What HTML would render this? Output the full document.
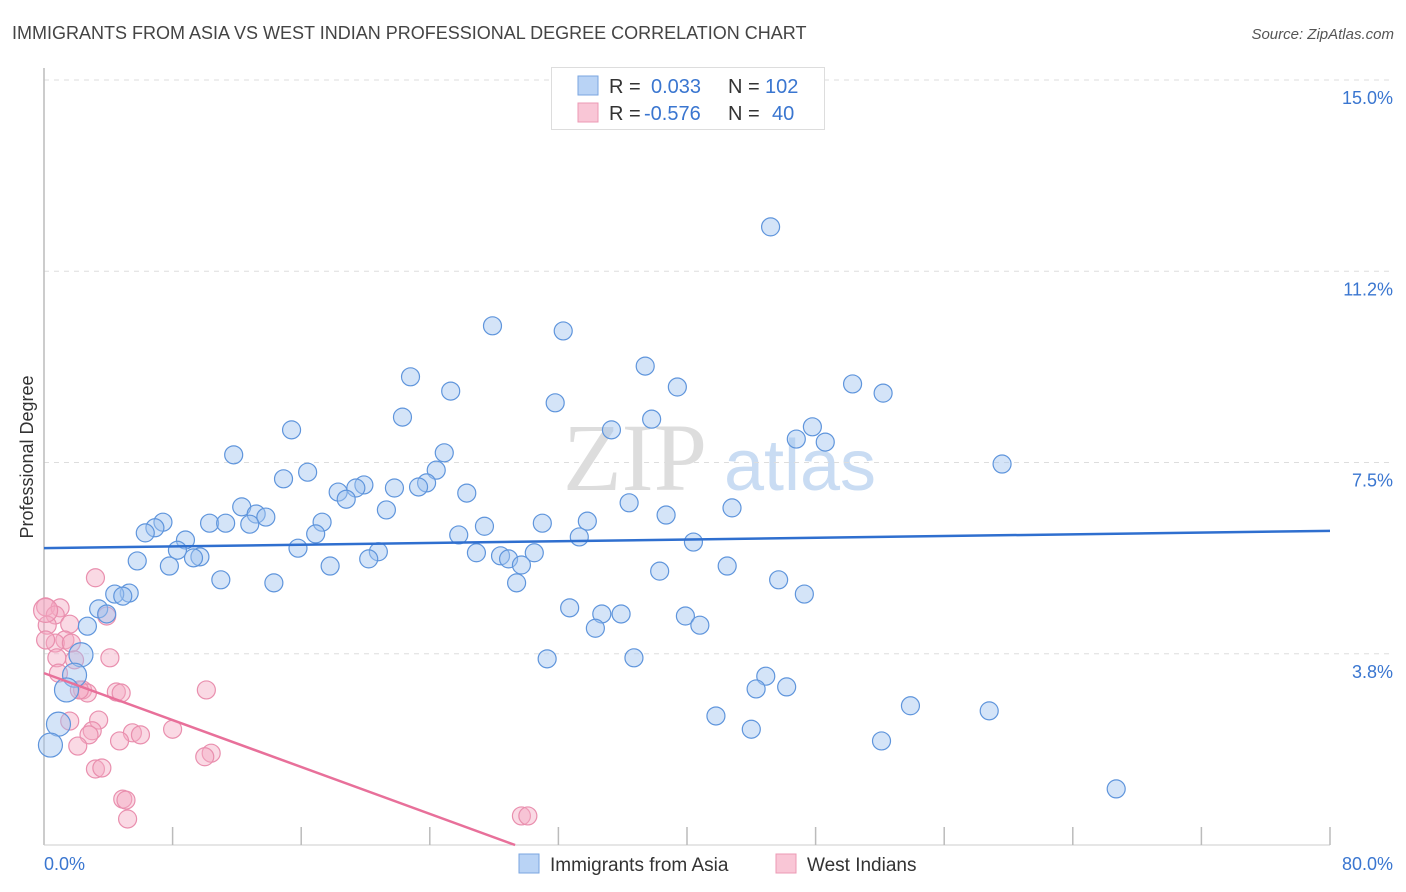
<!DOCTYPE html>
<html><head><meta charset="utf-8"><style>
body{margin:0;background:#fff;font-family:"Liberation Sans",sans-serif;}
svg{display:block}
</style></head><body>
<svg id="chart" width="1406" height="892" viewBox="0 0 1406 892" xmlns="http://www.w3.org/2000/svg">
<text x="12" y="39" font-size="18" fill="#444">IMMIGRANTS FROM ASIA VS WEST INDIAN PROFESSIONAL DEGREE CORRELATION CHART</text>
<text x="1394" y="39" font-size="15" fill="#555" font-style="italic" text-anchor="end">Source: ZipAtlas.com</text>
<text transform="translate(33,457) rotate(-90)" font-size="18" fill="#333" text-anchor="middle">Professional Degree</text>
<g>
<text x="635" y="490" font-size="96" fill="#ddd" font-family="Liberation Serif,serif" text-anchor="middle">ZIP</text>
<text x="800" y="490" font-size="72" fill="#c9dcf3" text-anchor="middle">atlas</text>
</g>
<g id="grid"></g><g id="axes"></g><g id="points"></g><g id="lines"></g>
<g>
<rect x="551.5" y="67.5" width="273" height="62" fill="#fff" stroke="#ddd"/>
<rect x="578" y="76" width="20" height="19" fill="#b9d3f5" stroke="#7aa6e0"/>
<rect x="578" y="103" width="20" height="19" fill="#f9c6d6" stroke="#ec9ab4"/>
<text x="609" y="93" font-size="20" fill="#333">R =</text>
<text x="651" y="93" font-size="20" fill="#3a76d0">0.033</text>
<text x="728" y="93" font-size="20" fill="#333">N =</text>
<text x="765" y="93" font-size="20" fill="#3a76d0">102</text>
<text x="609" y="120" font-size="20" fill="#333">R =</text>
<text x="644" y="120" font-size="20" fill="#3a76d0">-0.576</text>
<text x="728" y="120" font-size="20" fill="#333">N =</text>
<text x="772" y="120" font-size="20" fill="#3a76d0">40</text>
</g>
<g>
<rect x="519" y="854" width="20" height="19" fill="#b9d3f5" stroke="#7aa6e0"/>
<text x="550" y="871" font-size="19" fill="#333">Immigrants from Asia</text>
<rect x="776" y="854" width="20" height="19" fill="#f9c6d6" stroke="#ec9ab4"/>
<text x="807" y="871" font-size="19" fill="#333">West Indians</text>
</g>
</svg>
<script>
const yTicks=[3.75,7.5,11.25,15];
const yTickLabels=["3.8%","7.5%","11.2%","15.0%"];
const xTickCount=10;
const blueX=[45.2,27.9,32.3,37.4,22.8,39.4,50.3,52.2,25.3,31.8,22.3,37.8,15.4,35.3,47.8,46.8,48.6,24.9,11.8,59.6,16.4,24.4,14.9,23.8,23.3,21.8,19.9,18.3,19.4,26.3,18.8,36.4,12.3,21.3,13.2,13.8,42.8,38.7,7.4,6.9,6.3,10.3,11.3,12.8,17.3,27.4,31.0,33.8,16.9,25.8,33.3,8.8,8.3,15.8,40.4,20.8,20.2,26.9,28.4,28.9,30.5,5.8,7.8,9.7,9.3,17.8,29.7,42.5,11.0,14.3,29.4,45.7,38.3,5.3,4.4,4.9,47.3,3.4,3.9,32.7,34.7,35.9,39.9,40.8,34.3,2.7,2.3,31.3,36.7,44.9,1.9,44.3,46.2,1.4,53.9,58.8,41.8,0.9,44.0,52.1,0.4,66.7];
const blueY=[12.12,10.18,10.08,9.39,9.18,8.98,9.04,8.86,8.90,8.67,8.39,8.35,8.14,8.14,8.20,7.96,7.90,7.69,7.65,7.47,7.31,7.35,7.18,7.10,7.02,7.00,7.06,6.92,7.00,6.90,6.78,6.71,6.63,6.57,6.49,6.43,6.61,6.47,6.33,6.22,6.12,6.31,6.31,6.29,6.33,6.25,6.31,6.35,6.10,6.08,6.04,5.98,5.78,5.82,5.94,5.75,5.61,5.73,5.67,5.61,5.73,5.57,5.47,5.65,5.63,5.47,5.49,5.47,5.20,5.14,5.14,5.20,5.37,4.94,4.92,4.88,4.92,4.63,4.53,4.65,4.53,4.53,4.49,4.31,4.25,4.29,3.73,3.65,3.67,3.31,3.33,3.06,3.10,3.04,2.73,2.63,2.53,2.37,2.27,2.04,1.96,1.10];
const pinkX=[0.1,1.0,0.7,3.2,0.2,1.6,3.9,1.3,0.7,1.7,4.1,0.8,1.9,0.9,2.4,4.5,2.7,4.8,10.1,3.4,1.6,3.0,2.8,5.5,6.0,8.0,4.7,2.1,10.4,10.0,3.2,3.6,4.9,5.1,5.2,29.7,30.1,0.1,2.2,0.1];
const pinkY=[4.67,4.65,4.51,5.24,4.31,4.33,4.49,4.02,3.96,3.96,3.67,3.67,3.63,3.37,3.04,3.00,2.98,2.98,3.04,2.45,2.43,2.24,2.16,2.20,2.16,2.27,2.04,1.94,1.80,1.73,1.49,1.51,0.90,0.88,0.51,0.57,0.57,4.02,3.04,4.60];
const blueTrend=[5.82,6.16]; // y at x=0 and x=80
const pinkTrend=[3.37,-0.115]; // intercept, slope
const X0=44,X1=1330,Y0=845,PY=51;
const sx=v=>X0+(v/80)*(X1-X0);
const sy=v=>Y0-v*PY;
const NS="http://www.w3.org/2000/svg";
function mk(tag,attrs,parent){const e=document.createElementNS(NS,tag);for(const k in attrs)e.setAttribute(k,attrs[k]);parent.appendChild(e);return e;}
const grid=document.getElementById('grid'),axes=document.getElementById('axes'),pts=document.getElementById('points'),lines=document.getElementById('lines');
yTicks.forEach((t,i)=>{
 const g=mk('line',{x1:X0,x2:1394,y1:sy(t),y2:sy(t),stroke:'#ddd','stroke-dasharray':'5,5'},grid);
 
 
 const tx=mk('text',{x:1393,y:sy(t)+24,'font-size':18,fill:'#3a76d0','text-anchor':'end'},axes);
 tx.textContent=yTickLabels[i];
 
 
});
const ax=mk('line',{x1:X0,x2:X0,y1:68,y2:Y0,stroke:'#bbb','stroke-width':1.5},axes);


const bx=mk('line',{x1:X0,x2:X1,y1:Y0,y2:Y0,stroke:'#ccc'},axes);


for(let i=1;i<=xTickCount;i++){
 const t=mk('line',{x1:sx(i*8),x2:sx(i*8),y1:827,y2:Y0,stroke:'#bbb','stroke-width':1.5},axes);
 
 
}
const xl=mk('text',{x:44,y:870,'font-size':18,fill:'#3a76d0'},axes);xl.textContent='0.0%';


const xr=mk('text',{x:1393,y:870,'font-size':18,fill:'#3a76d0','text-anchor':'end'},axes);xr.textContent='80.0%';


pinkX.forEach((x,i)=>{
 const c=mk('circle',{cx:sx(x),cy:sy(pinkY[i]),r:(i===39?12:9),fill:'rgba(245,170,195,0.45)',stroke:'#e98fae','stroke-width':1.2},pts);
 
 
});
blueX.forEach((x,i)=>{
 const c=mk('circle',{cx:sx(x),cy:sy(blueY[i]),r:(x<2.5?12:9),fill:'rgba(160,195,240,0.45)',stroke:'#5f95dc','stroke-width':1.2},pts);
 
 
});
const bl=mk('line',{x1:sx(0),y1:sy(blueTrend[0]),x2:sx(80),y2:sy(blueTrend[1]),stroke:'#2f6fcf','stroke-width':2.5},lines);


const pEnd=-pinkTrend[0]/pinkTrend[1];
const pl=mk('line',{x1:sx(0),y1:sy(pinkTrend[0]),x2:sx(pEnd),y2:sy(0),stroke:'#e8709a','stroke-width':2.5},lines);


</script>
</body></html>
